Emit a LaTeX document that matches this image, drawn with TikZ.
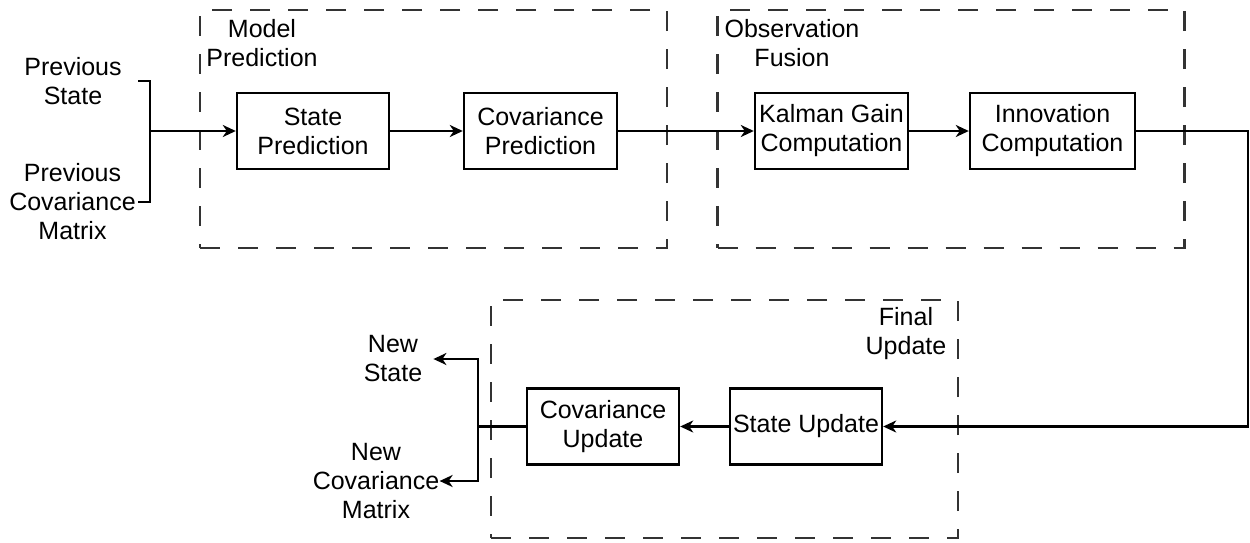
\documentclass[tikz,border=0pt]{standalone}
\usepackage{fontspec}
\setmainfont{Liberation Sans}
\usetikzlibrary{arrows.meta}
\definecolor{dashgray}{HTML}{333333}
\begin{document}
\begin{tikzpicture}[x=0.5pt,y=-0.5pt,
  every node/.style={font=\fontsize{12.5pt}{14.5pt}\selectfont, align=center, inner sep=0pt},
  box/.style={draw, line width=1.2pt, minimum height=38pt},
  grp/.style={draw=dashgray, line width=1.2pt, dash pattern=on 10pt off 9pt, minimum width=233.5pt, minimum height=119pt},
  conn/.style={line width=1.2pt},
  arr/.style={line width=1.2pt, -{Stealth[length=6.5pt,width=6pt,inset=2pt]}}
]
\useasboundingbox (0,0) rectangle (1250,542);
% groups
\node[grp] (g1) at (433.5,129) {};
\node[grp] (g2) at (951,129) {};
\node[grp] (g3) at (724.5,419) {};
\node (l1) at (262,43) {Model\\Prediction};
\node (l2) at (792,43) {Observation\\Fusion};
\node (l3) at (906,334) {Final\\Update};
% boxes
\node[box, minimum width=76pt] (sp) at (313,131) {State\\Prediction};
\node[box, minimum width=76.5pt] (cp) at (540.5,131) {Covariance\\Prediction};
\node[box, minimum width=76.5pt] (kg) at (831.5,131) {Kalman Gain\\Computation};
\node[box, minimum width=82.5pt] (ic) at (1052.5,131) {Innovation\\Computation};
\node[box, minimum width=76pt] (su) at (806,426.5) {State Update};
\node[box, minimum width=76pt] (cu) at (603,426.5) {Covariance\\Update};
% inputs / outputs
\node[text width=65pt] (ps) at (73,81) {Previous\\State};
\node[text width=65.5pt] (pc) at (72.5,202) {Previous\\Covariance\\Matrix};
\node[text width=40pt] (ns) at (393,359) {New\\State};
\node (nc) at (376,481) {New\\Covariance\\Matrix};
% junctions
\coordinate (ij) at (150,131);
\coordinate (oj) at (478,426.5);
\coordinate (rc) at (1248,426.5);
% connectors
\draw[conn] (ps.east) -| (ij);
\draw[conn] (pc.east) -| (ij);
\draw[arr] (ij) -- (sp.west);
\draw[arr] (sp) -- (cp);
\draw[arr] (cp) -- (kg);
\draw[arr] (kg) -- (ic);
\draw[arr] (ic.east) -| (rc) -- (su.east);
\draw[arr] (su) -- (cu);
\draw[conn] (cu.west) -- (oj);
\draw[arr] (oj) |- (ns.east);
\draw[arr] (oj) |- (nc.east);
\end{tikzpicture}
\end{document}
